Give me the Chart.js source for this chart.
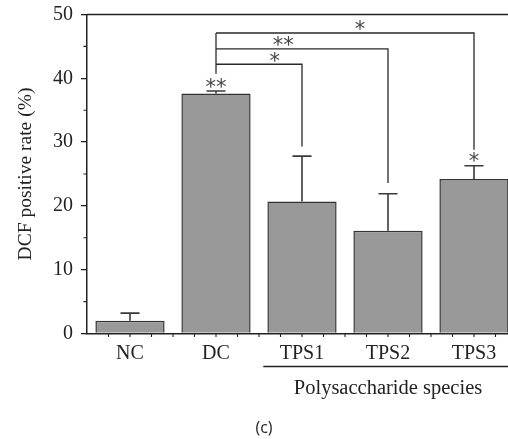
<!DOCTYPE html>
<html>
<head>
<meta charset="utf-8">
<script src="https://cdn.jsdelivr.net/npm/chart.js@4/dist/chart.umd.min.js"></script>
<style>
  html, body { margin: 0; padding: 0; background: #fff; }
  #wrap { width: 508px; height: 439px; overflow: hidden; position: relative; }
  canvas { display: block; }
</style>
</head>
<body>
<div id="wrap"><canvas id="c" width="517" height="439"></canvas></div>
<script>
"use strict";
// values
var categories = ["NC", "DC", "TPS1", "TPS2", "TPS3"];
var meanRate = [2.0, 37.6, 20.7, 16.1, 24.2];
var errorTop = [3.2, 38.0, 27.8, 21.9, 26.3];

// significance brackets, all starting at DC
var bracketFrom = 1;
var bracketStart = 40.7;
var bracketTo = [2, 3, 4];
var bracketLevel = [42.2, 44.6, 47.1];
var bracketDrop = [29.3, 23.6, 28.8];
var bracketText = ["*", "**", "*"];
var bracketTextX = [1.684, 1.781, 2.675];
var bracketTextY = [43.3, 45.8, 48.3];

// stars above single bars
var starIndex = [1, 4];
var starText = ["**", "*"];
var starY = [39.3, 27.7];

var serif = "'Liberation Serif', 'Times New Roman', serif";
var ink = "#222";

function starAt(ctx, text, x, y) {
  ctx.save();
  ctx.font = "21px 'DejaVu Sans'";
  ctx.fillStyle = "#444";
  ctx.textAlign = "center";
  ctx.textBaseline = "alphabetic";
  var m = ctx.measureText(text);
  ctx.fillText(text, x, y + (m.actualBoundingBoxAscent - m.actualBoundingBoxDescent) / 2);
  ctx.restore();
}

var decorations = {
  id: "decorations",
  afterDatasetsDraw: function (chart) {
    var ctx = chart.ctx, xs = chart.scales.x, ys = chart.scales.y, area = chart.chartArea;
    var i, x, y;
    ctx.save();
    // error bars (upper only)
    ctx.strokeStyle = "#3a3a3a";
    ctx.lineWidth = 1.6;
    for (i = 0; i < categories.length; i++) {
      x = xs.getPixelForValue(i);
      ctx.beginPath();
      ctx.moveTo(x, ys.getPixelForValue(meanRate[i]));
      ctx.lineTo(x, ys.getPixelForValue(errorTop[i]));
      ctx.moveTo(x - 9.5, ys.getPixelForValue(errorTop[i]));
      ctx.lineTo(x + 9.5, ys.getPixelForValue(errorTop[i]));
      ctx.stroke();
    }
    // brackets
    ctx.strokeStyle = "#2a2a2a";
    ctx.lineWidth = 1.3;
    var x0 = xs.getPixelForValue(bracketFrom);
    ctx.beginPath();
    ctx.moveTo(x0, ys.getPixelForValue(bracketStart));
    ctx.lineTo(x0, ys.getPixelForValue(bracketLevel[bracketLevel.length - 1]));
    ctx.stroke();
    for (i = 0; i < bracketTo.length; i++) {
      y = ys.getPixelForValue(bracketLevel[i]);
      x = xs.getPixelForValue(bracketTo[i]);
      ctx.beginPath();
      ctx.moveTo(x0, y);
      ctx.lineTo(x, y);
      ctx.lineTo(x, ys.getPixelForValue(bracketDrop[i]));
      ctx.stroke();
      starAt(ctx, bracketText[i], xs.getPixelForValue(bracketTextX[i]), ys.getPixelForValue(bracketTextY[i]));
    }
    for (i = 0; i < starIndex.length; i++) {
      starAt(ctx, starText[i], xs.getPixelForValue(starIndex[i]), ys.getPixelForValue(starY[i]));
    }
    // top frame line
    ctx.strokeStyle = ink;
    ctx.lineWidth = 1.5;
    ctx.beginPath();
    ctx.moveTo(area.left, area.top);
    ctx.lineTo(area.right, area.top);
    ctx.stroke();
    // minor ticks on y (every 5) and x (every quarter category)
    ctx.lineWidth = 1.1;
    ctx.beginPath();
    for (var v = 5; v < 50; v += 10) {
      y = ys.getPixelForValue(v);
      ctx.moveTo(area.left, y);
      ctx.lineTo(area.left - 3.5, y);
    }
    for (var q = -0.25; q <= categories.length - 0.5; q += 0.25) {
      x = xs.getPixelForValue(q);
      ctx.moveTo(x, area.bottom);
      ctx.lineTo(x, area.bottom + 3.5);
    }
    ctx.stroke();
    // group line and label under TPS
    var gy = area.bottom + 33;
    ctx.lineWidth = 1.3;
    ctx.beginPath();
    ctx.moveTo(xs.getPixelForValue(1.55), gy);
    ctx.lineTo(area.right, gy);
    ctx.stroke();
    ctx.fillStyle = ink;
    ctx.textAlign = "center";
    ctx.textBaseline = "middle";
    ctx.font = "20.5px " + serif;
    ctx.fillText("Polysaccharide species", xs.getPixelForValue(3), gy + 22);
    ctx.font = "16px 'Open Sans'";
    ctx.fillText("(c)", 264, 428);
    ctx.restore();
  }
};

new Chart(document.getElementById("c"), {
  type: "bar",
  data: {
    labels: categories,
    datasets: [{
      data: meanRate,
      backgroundColor: "#999999",
      borderColor: "#333333",
      borderWidth: 1.5,
      borderSkipped: "bottom",
      barPercentage: 0.805,
      categoryPercentage: 1
    }]
  },
  options: {
    responsive: false,
    animation: false,
    devicePixelRatio: 1,
    layout: {padding: {top: 14.5, right: 0, bottom: 75.5, left: 0}},
    plugins: {legend: {display: false}, tooltip: {enabled: false}},
    scales: {
      x: {
        afterFit: function (s) { s.height = 30; s.paddingLeft = 0; s.paddingRight = 0; },
        border: {display: true, color: ink, width: 1.5},
        grid: {display: true, drawOnChartArea: false, drawTicks: false},
        ticks: {color: ink, padding: 8, font: {family: serif, size: 20}}
      },
      y: {
        min: 0, max: 50,
        afterFit: function (s) { s.width = 87; s.paddingTop = 0; s.paddingBottom = 0; },
        border: {display: true, color: ink, width: 1.5},
        grid: {drawOnChartArea: false, drawTicks: true, tickLength: 6, color: ink, lineWidth: 1.3},
        ticks: {stepSize: 10, color: ink, padding: 8, font: {family: serif, size: 20}},
        title: {display: true, text: "DCF positive rate (%)", color: ink, font: {family: serif, size: 19.5}, padding: {top: 14, bottom: 0}}
      }
    }
  },
  plugins: [decorations]
});
</script>
</body>
</html>
